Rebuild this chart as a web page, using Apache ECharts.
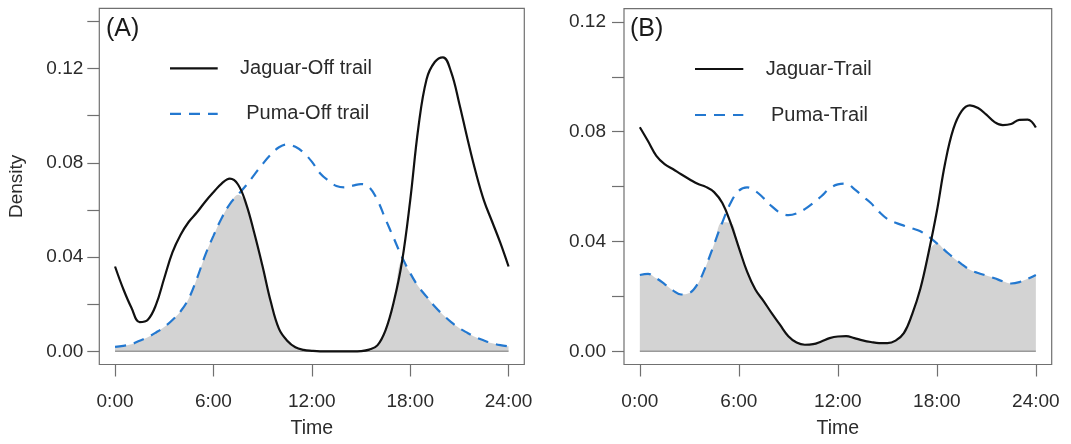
<!DOCTYPE html>
<html>
<head>
<meta charset="utf-8">
<script src="https://cdn.jsdelivr.net/npm/echarts@6/dist/echarts.min.js"></script>
<style>
  html, body { margin: 0; padding: 0; background: #ffffff; }
  #chart { width: 1071px; height: 444px; }
</style>
</head>
<body>
<div id="chart"></div>
<script>
// ---------------- data ----------------
const hours = [0, 0.5, 1, 1.5, 2, 2.5, 3, 3.5, 4, 4.5, 5, 5.5, 6, 6.5, 7, 7.5, 8, 8.5, 9, 9.5,
  10, 10.5, 11, 11.5, 12, 12.5, 13, 13.5, 14, 14.5, 15, 15.5, 16, 16.5, 17, 17.5, 18, 18.5, 19, 19.5,
  20, 20.5, 21, 21.5, 22, 22.5, 23, 23.5, 24];

// Panel A: off trail
const jaguarOffTrail = [0.036, 0.0265, 0.0185, 0.0124, 0.0134, 0.0198, 0.031, 0.042, 0.0495, 0.055,
  0.059, 0.0635, 0.0675, 0.0712, 0.0733, 0.0708, 0.0625, 0.050, 0.036, 0.021,
  0.0095, 0.0045, 0.0017, 0.0006, 0.0002, 0.0, 0.0, 0.0, 0.0, 0.0,
  0.0001, 0.0007, 0.0025, 0.009, 0.021, 0.038, 0.064, 0.095, 0.1155, 0.1228,
  0.1248, 0.1185, 0.105, 0.090, 0.076, 0.064, 0.055, 0.046, 0.036];
const pumaOffTrail = [0.0019, 0.0023, 0.003, 0.0045, 0.006, 0.008, 0.0103, 0.0133, 0.017, 0.0225,
  0.031, 0.0408, 0.049, 0.0565, 0.0625, 0.0665, 0.0705, 0.075, 0.0795, 0.0835,
  0.0866, 0.0878, 0.0868, 0.0843, 0.0805, 0.0756, 0.0725, 0.0702, 0.0696, 0.0703,
  0.071, 0.0697, 0.0642, 0.056, 0.048, 0.040, 0.0332, 0.0275, 0.0232, 0.019,
  0.0155, 0.0124, 0.0098, 0.0078, 0.006, 0.0046, 0.0034, 0.0026, 0.0021];

// Panel B: trail
const jaguarTrail = [0.0816, 0.0765, 0.0712, 0.0682, 0.0664, 0.0645, 0.0627, 0.061, 0.0599, 0.058,
  0.054, 0.0468, 0.0378, 0.029, 0.0225, 0.0183, 0.0138, 0.0096, 0.0055, 0.0032,
  0.0024, 0.0026, 0.0036, 0.0048, 0.0054, 0.0055, 0.0048, 0.004, 0.0034, 0.003,
  0.003, 0.0039, 0.0066, 0.0135, 0.0228, 0.036, 0.051, 0.0685, 0.081, 0.0875,
  0.0896, 0.0886, 0.0862, 0.0835, 0.0824, 0.0828, 0.0843, 0.0844, 0.0815];
const pumaTrail = [0.0278, 0.0282, 0.0266, 0.0245, 0.0222, 0.0207, 0.0212, 0.0245, 0.031, 0.039,
  0.047, 0.054, 0.0585, 0.0597, 0.0584, 0.0558, 0.0528, 0.0505, 0.0496, 0.0502,
  0.0518, 0.054, 0.0565, 0.0593, 0.0608, 0.0611, 0.0591, 0.0565, 0.054, 0.0508,
  0.0482, 0.0468, 0.0458, 0.0448, 0.0437, 0.0418, 0.0393, 0.0367, 0.0341, 0.0318,
  0.0297, 0.0285, 0.0276, 0.0266, 0.0255, 0.0247, 0.0252, 0.0264, 0.0278];

const tickHours = [0, 6, 12, 18, 24];
const tickLabels = ['0:00', '6:00', '12:00', '18:00', '24:00'];
const yTicksA = [0, 0.02, 0.04, 0.06, 0.08, 0.10, 0.12, 0.14];
const yLabelsA = [0, 0.04, 0.08, 0.12];
const yTicksB = [0, 0.02, 0.04, 0.06, 0.08, 0.10, 0.12];
const yLabelsB = [0, 0.04, 0.08, 0.12];
const legendA = ['Jaguar-Off trail', 'Puma-Off trail'];
const legendB = ['Jaguar-Trail', 'Puma-Trail'];
const panelLabels = ['(A)', '(B)'];

// ---------------- style ----------------
const FONT = "'Liberation Sans', Arial, sans-serif";
const TXT = '#2b2b2b';
const BOX = '#707070';
const BLUE = '#2378d0';
const FILL = '#d3d3d3';
const SMOOTH = 0.4;

const pairs = (ys) => hours.map((h, i) => [h, ys[i]]);
const overlap = (a, b) => hours.map((h, i) => [h, Math.min(a[i], b[i])]);

function xAxisFor(gridIndex) {
  return {
    type: 'value', gridIndex: gridIndex, min: -0.96, max: 24.96, position: 'bottom',
    name: 'Time', nameLocation: 'middle', nameGap: 55,
    nameTextStyle: { fontFamily: FONT, fontSize: 19.5, color: TXT, lineHeight: 19 },
    axisLine: { show: false, onZero: false },
    splitLine: { show: false },
    axisTick: { show: true, inside: false, length: 12, customValues: tickHours,
      lineStyle: { color: BOX, width: 1.2 } },
    axisLabel: { customValues: tickHours, margin: 28, fontFamily: FONT, fontSize: 19,
      color: TXT, lineHeight: 19,
      formatter: (v) => { const k = tickHours.indexOf(v); return k >= 0 ? tickLabels[k] : ''; } }
  };
}
function yAxisFor(gridIndex, min, max, ticks, labels, margin, withName) {
  return {
    type: 'value', gridIndex: gridIndex, min: min, max: max, position: 'left',
    name: withName ? 'Density' : '', nameLocation: 'middle', nameGap: 73,
    nameTextStyle: { fontFamily: FONT, fontSize: 19, color: TXT, lineHeight: 19 },
    axisLine: { show: false, onZero: false },
    splitLine: { show: false },
    axisTick: { show: true, inside: false, length: 12, customValues: ticks,
      lineStyle: { color: BOX, width: 1.2 } },
    axisLabel: { customValues: labels, margin: margin, fontFamily: FONT, fontSize: 19,
      color: TXT, formatter: (v) => v.toFixed(2) }
  };
}
function seriesFor(idx, jag, puma) {
  return [
    { type: 'line', xAxisIndex: idx, yAxisIndex: idx, data: overlap(jag, puma), smooth: SMOOTH,
      symbol: 'none', lineStyle: { width: 0 }, areaStyle: { color: FILL, opacity: 1 }, z: 1, silent: true },
    { type: 'line', xAxisIndex: idx, yAxisIndex: idx, data: [[tickHours[0], 0], [tickHours[4], 0]],
      symbol: 'none', lineStyle: { color: '#9a9a9a', width: 1.5 }, z: 2, silent: true },
    { type: 'line', xAxisIndex: idx, yAxisIndex: idx, data: pairs(puma), smooth: SMOOTH,
      symbol: 'none', lineStyle: { color: BLUE, width: 2.2, type: [11, 8] }, z: 3 },
    { type: 'line', xAxisIndex: idx, yAxisIndex: idx, data: pairs(jag), smooth: SMOOTH,
      symbol: 'none', lineStyle: { color: '#111111', width: 2.2 }, z: 4 }
  ];
}
function legendGraphics(x1, x2, yTop, yBot, textCx1, textCx2, labels) {
  return [
    { type: 'line', shape: { x1: x1, y1: yTop, x2: x2, y2: yTop },
      style: { stroke: '#111111', lineWidth: 2.2 } },
    { type: 'line', shape: { x1: x1, y1: yBot, x2: x2, y2: yBot },
      style: { stroke: BLUE, lineWidth: 2.2, lineDash: [11, 8] } },
    { type: 'text', x: textCx1, y: yTop, style: { text: labels[0], font: '20px ' + FONT, fill: TXT,
      textAlign: 'center', textVerticalAlign: 'middle' } },
    { type: 'text', x: textCx2, y: yBot, style: { text: labels[1], font: '20px ' + FONT, fill: TXT,
      textAlign: 'center', textVerticalAlign: 'middle' } }
  ];
}

const chart = echarts.init(document.getElementById('chart'), null, { renderer: 'canvas' });
chart.setOption({
  animation: false,
  backgroundColor: '#ffffff',
  grid: [
    { left: 99.3, top: 8.3, width: 425, height: 357.4, show: true, borderColor: BOX, borderWidth: 1.2,
      backgroundColor: 'transparent', containLabel: false },
    { left: 624, top: 8.7, width: 427.7, height: 359.3, show: true, borderColor: BOX, borderWidth: 1.2,
      backgroundColor: 'transparent', containLabel: false }
  ],
  xAxis: [xAxisFor(0), xAxisFor(1)],
  yAxis: [
    yAxisFor(0, -0.0056, 0.1456, yTicksA, yLabelsA, 16, true),
    yAxisFor(1, -0.0048, 0.1248, yTicksB, yLabelsB, 18, false)
  ],
  series: [].concat(seriesFor(0, jaguarOffTrail, pumaOffTrail), seriesFor(1, jaguarTrail, pumaTrail)),
  graphic: [].concat(
    [{ type: 'text', x: 106, y: 17, style: { text: panelLabels[0], font: '25px ' + FONT, fill: '#1a1a1a',
        textVerticalAlign: 'top' } },
     { type: 'text', x: 630, y: 17, style: { text: panelLabels[1], font: '25px ' + FONT, fill: '#1a1a1a',
        textVerticalAlign: 'top' } }],
    legendGraphics(170, 217.7, 68.3, 113.8, 306, 307.7, legendA),
    legendGraphics(695, 743.3, 69, 115, 818.8, 819.5, legendB)
  )
});
</script>
</body>
</html>
